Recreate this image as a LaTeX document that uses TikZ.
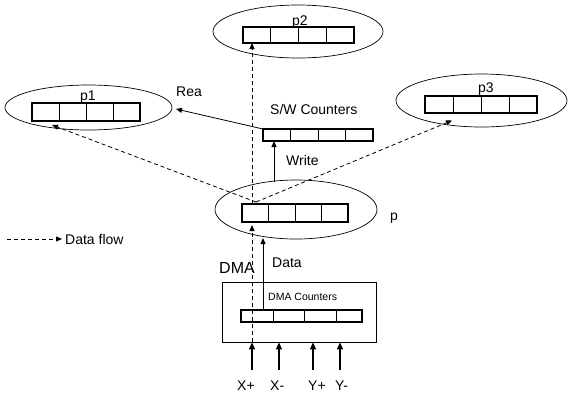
\documentclass[tikz,border=0pt]{standalone}
\usepackage{fontspec}
\setmainfont{Liberation Sans}
\usetikzlibrary{shapes.geometric,arrows.meta,calc}
\newcommand\regcells[1]{\foreach \f in {0.25,0.5,0.75}{\draw[cell] ($(#1.north west)!\f!(#1.north east)$) -- ($(#1.south west)!\f!(#1.south east)$);}}
\begin{document}
\begin{tikzpicture}[x=1pt,y=-1pt,
  ell/.style={draw, ellipse, line width=0.7pt, inner sep=0pt},
  reg/.style={draw, rectangle, line width=1.5pt, inner sep=0pt, outer sep=0pt},
  cell/.style={line width=0.6pt},
  lbl/.style={font=\fontsize{14}{16}\selectfont, inner sep=0pt, anchor=base west},
  small/.style={font=\fontsize{10.5}{12}\selectfont, inner sep=0pt, anchor=base west},
  arr/.style={line width=1pt, -{Triangle[length=6pt,width=5pt]}},
  inarr/.style={line width=1.5pt, -{Triangle[length=7pt,width=6pt]}},
  flow/.style={line width=0.8pt, dash pattern=on 4pt off 3pt, -{Triangle[length=6pt,width=5pt]}}
]
\useasboundingbox (0,0) rectangle (568,392);

% ellipses
\node[ell, minimum width=170pt, minimum height=53pt] (e2) at (298,31.5) {};
\node[ell, minimum width=167pt, minimum height=45pt] (e1) at (88.5,107.5) {};
\node[ell, minimum width=171pt, minimum height=53pt] (e3) at (481.5,100.5) {};
\node[ell, minimum width=162pt, minimum height=59pt] (ep) at (296,209.5) {};

% registers
\node[reg, minimum width=111pt, minimum height=16pt] (r2) at (298.5,35) {};
\regcells{r2}
\node[reg, minimum width=108pt, minimum height=18pt] (r1) at (86,112) {};
\regcells{r1}
\node[reg, minimum width=112pt, minimum height=17pt] (r3) at (481,104.5) {};
\regcells{r3}
\node[reg, minimum width=106pt, minimum height=18pt] (rp) at (295,213) {};
\regcells{rp}
\node[reg, minimum width=110pt, minimum height=12pt] (sw) at (318,135) {};
\regcells{sw}

% DMA box
\node[draw, line width=0.8pt, minimum width=154pt, minimum height=60pt, inner sep=0pt] (dma) at (299,312) {};
\node[reg, minimum width=121pt, minimum height=12pt] (dr) at (301.5,316) {};
\foreach \f in {0.264,0.52,0.785}{\draw[cell] ($(dr.north west)!\f!(dr.north east)$) -- ($(dr.south west)!\f!(dr.south east)$);}

% labels
\node[lbl] (lp2) at (292,25) {p2};
\node[lbl] (lp1) at (80,100) {p1};
\node[lbl] (lp3) at (478,92) {p3};
\node[lbl] (lp) at (390,220) {p};
\node[lbl] (lrea) at (176,96) {Rea};
\node[lbl] (lsw) at (270,114) {S/W Counters};
\node[lbl] (lwr) at (286,165) {Write};
\node[lbl] (ldata) at (272,267) {Data};
\node[lbl, font=\fontsize{16}{18}\selectfont] (ldma) at (219,273) {DMA};
\node[small] (ldc) at (268,300) {DMA Counters};
\node[lbl] (lflow) at (65,244) {Data flow};
\node[lbl] (lxp) at (237,390) {X+};
\node[lbl] (lxm) at (270,390) {X-};
\node[lbl] (lyp) at (308,390) {Y+};
\node[lbl] (lym) at (335,390) {Y-};

% coordinates
\coordinate (vx) at (252,0);
\coordinate (src) at (256,202);
\coordinate (t1) at (52,125);
\coordinate (t3) at (452,120.5);
\coordinate (rt) at (176,109);
\coordinate (in1) at (252,370);
\coordinate (in2) at (279,370);
\coordinate (in3) at (313,370);
\coordinate (in4) at (340,370);
\coordinate (lg1) at (7,239);
\coordinate (lg2) at (62,239);

% data flow (dashed)
\draw[flow] (dma.south -| vx) -- ($(rp.south -| vx)+(0,3)$);
\draw[flow] (rp.north -| vx) -- (r2.south -| vx);
\draw[flow] (src) -- (t1);
\draw[flow] (src) -- (t3);
\draw[flow] (lg1) -- (lg2);

% solid arrows
\draw[arr] ($(sw.south west)+(11,41)$) -- ($(sw.south west)+(11,0)$);
\draw[arr, line width=0.8pt] (sw.north west) -- (rt);
\draw[arr] ($(dr.north west)+(22,0)$) -- ($(dr.north west)+(22,-72)$);
\foreach \c in {in1,in2,in3,in4}{\draw[inarr] (\c) -- (\c |- dma.south);}
\end{tikzpicture}
\end{document}
